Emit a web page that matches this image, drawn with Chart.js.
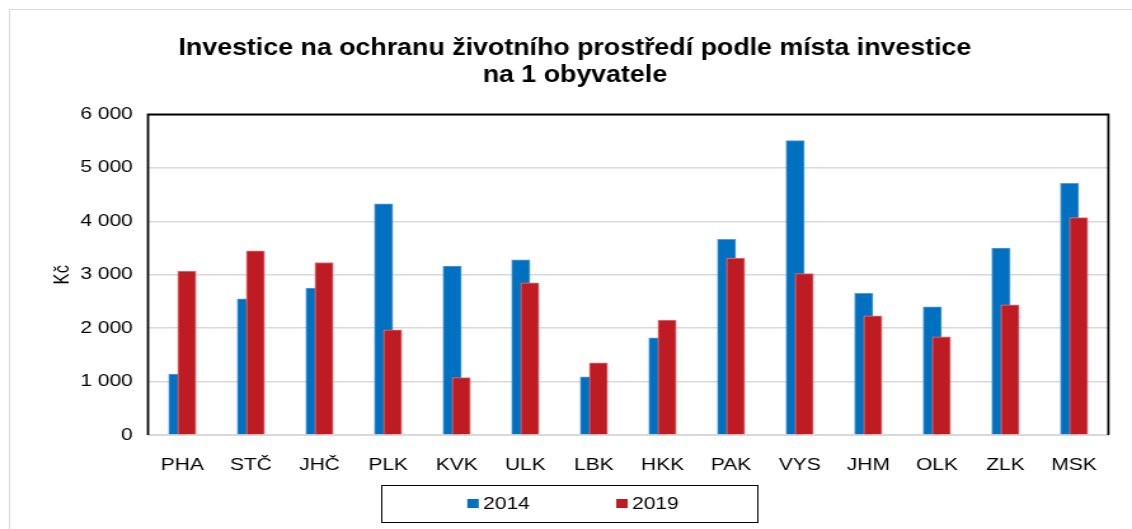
<!DOCTYPE html>
<html>
<head>
<meta charset="utf-8">
<script src="https://cdn.jsdelivr.net/npm/chart.js@4.4.1/dist/chart.umd.min.js"></script>
<style>
html, body { margin: 0; padding: 0; background: #fff; overflow: hidden; }
/* the source picture is stretched sideways, so the canvas is too */
#chart { display: block; transform: scaleX(1.2705); transform-origin: 0 0; }
</style>
</head>
<body>
<canvas id="chart" width="891" height="529"></canvas>
<script>
// Data
const titleLines = ['Investice na ochranu životního prostředí podle místa investice', 'na 1 obyvatele'];
const categories = ['PHA', 'STČ', 'JHČ', 'PLK', 'KVK', 'ULK', 'LBK', 'HKK', 'PAK', 'VYS', 'JHM', 'OLK', 'ZLK', 'MSK'];
const seriesNames = ['2014', '2019'];
const values2014 = [1140, 2550, 2750, 4330, 3160, 3280, 1090, 1820, 3665, 5510, 2650, 2400, 3500, 4710];
const values2019 = [3070, 3450, 3230, 1970, 1075, 2850, 1350, 2150, 3310, 3020, 2230, 1840, 2435, 4070];
const yAxisTitle = 'Kč';
const yMin = 0, yMax = 6000, yStep = 1000;

const FONT = '"Liberation Sans", Arial, sans-serif';
const BLUE = '#0070C0';
const RED = '#BE1B22';

// bars of one category overlap, so x is a linear index axis
const shift = 0.066;
const toPoints = (vals, dx) => vals.map((v, i) => ({ x: i + dx, y: v }));

function fmt(v) {
    return String(v).replace(/\B(?=(\d{3})+(?!\d))/g, ' ');
}

const framePlugin = {
    id: 'frame',
    beforeDraw(chart) {
        const ctx = chart.ctx;
        ctx.save();
        ctx.strokeStyle = '#d9d9d9';
        ctx.lineWidth = 1;
        ctx.strokeRect(7.5, 9.5, chart.width + 20, chart.height + 20);
        ctx.restore();
    },
    afterDatasetsDraw(chart) {
        const a = chart.chartArea;
        const ctx = chart.ctx;
        ctx.save();
        ctx.strokeStyle = '#000';
        ctx.lineWidth = 1.8;
        ctx.beginPath();
        ctx.moveTo(a.left, a.bottom);
        ctx.lineTo(a.left, a.top);
        ctx.lineTo(a.right, a.top);
        ctx.lineTo(a.right, a.bottom);
        ctx.stroke();
        ctx.restore();
    },
    afterDraw(chart) {
        const ctx = chart.ctx;
        ctx.save();
        // title (taller font, squeezed back to the source width)
        const tScale = 0.86;
        ctx.save();
        ctx.scale(tScale, 1);
        ctx.fillStyle = '#000';
        ctx.textAlign = 'center';
        ctx.textBaseline = 'alphabetic';
        ctx.font = 'bold 24.5px ' + FONT;
        const tx = (chart.width / 2 + 7) / tScale;
        titleLines.forEach((t, i) => ctx.fillText(t, tx, 55 + i * 26.5));
        ctx.restore();

        // legend with frame
        const boxW = 296, boxH = 37;
        const cx = chart.width / 2 + 2.5;
        const cy = 503.5;
        ctx.strokeStyle = '#000';
        ctx.lineWidth = 1;
        ctx.strokeRect(Math.round(cx - boxW / 2) + 0.5, Math.round(cy - boxH / 2) + 0.5, boxW, boxH);
        ctx.font = '16.5px ' + FONT;
        const sq = 9, gap = 3.5, itemGap = 68;
        const items = chart.data.datasets.slice().sort((p, q) => seriesNames.indexOf(p.label) - seriesNames.indexOf(q.label));
        const widths = items.map(d => sq + gap + ctx.measureText(d.label).width);
        const total = widths.reduce((s, w) => s + w, 0) + itemGap * (items.length - 1);
        let x = cx - total / 2 + 3;
        ctx.textAlign = 'left';
        ctx.textBaseline = 'middle';
        items.forEach((d, i) => {
            ctx.fillStyle = d.backgroundColor;
            ctx.fillRect(x, cy - sq / 2, sq, sq);
            ctx.fillStyle = '#000';
            ctx.fillText(d.label, x + sq + gap, cy + 1);
            x += widths[i] + itemGap;
        });
        ctx.restore();
    }
};

new Chart(document.getElementById('chart'), {
    type: 'bar',
    data: {
        datasets: [{
            label: seriesNames[0],
            data: toPoints(values2014, -shift),
            backgroundColor: BLUE,
            borderColor: '#5b9bd5',
            borderWidth: 1,
            order: 2
        }, {
            label: seriesNames[1],
            data: toPoints(values2019, shift),
            backgroundColor: RED,
            borderColor: '#e07a7e',
            borderWidth: 1,
            order: 1
        }]
    },
    options: {
        responsive: false,
        animation: false,
        grouped: false,
        barThickness: 14.4,
        layout: { padding: { top: 114.5, right: 18.6, bottom: 0, left: 0 } },
        plugins: {
            legend: { display: false },
            title: { display: false },
            tooltip: { enabled: false }
        },
        scales: {
            x: {
                type: 'linear',
                min: -0.5,
                max: categories.length - 0.5,
                offset: false,
                grid: { display: false, drawTicks: false },
                border: { display: true, color: '#d9d9d9', width: 2 },
                ticks: {
                    autoSkip: false,
                    maxRotation: 0,
                    padding: 21,
                    color: '#000',
                    font: { family: FONT, size: 16.5 },
                    callback: v => categories[v] ?? ''
                },
                afterBuildTicks: s => { s.ticks = categories.map((c, i) => ({ value: i })); },
                afterFit: s => { s.height = 94; }
            },
            y: {
                min: yMin,
                max: yMax,
                grid: { color: '#d9d9d9', lineWidth: 1.5, drawTicks: false },
                border: { display: false },
                ticks: {
                    stepSize: yStep,
                    padding: 12,
                    color: '#000',
                    font: { family: FONT, size: 16.5 },
                    callback: v => fmt(v)
                },
                title: {
                    display: true,
                    text: yAxisTitle,
                    color: '#000',
                    font: { family: FONT, size: 16.5 },
                    padding: { top: 40, bottom: 0 }
                },
                afterFit: s => { s.width = 116.5; }
            }
        }
    },
    plugins: [framePlugin]
});
</script>
</body>
</html>
